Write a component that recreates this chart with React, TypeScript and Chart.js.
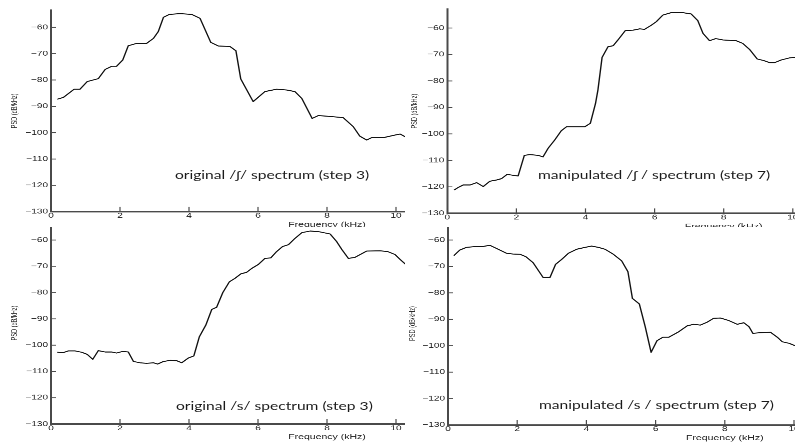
import React, { useEffect, useRef } from "react";
import { Chart, registerables } from "chart.js";

Chart.register(...registerables);

// ---------------- data ----------------
const freqOrigSh = [0.18, 0.36, 0.67, 0.84, 1.05, 1.37, 1.57, 1.76, 1.9, 2.08, 2.24, 2.48, 2.77, 2.97, 3.11, 3.26, 3.43, 3.74, 4.08, 4.32, 4.63, 4.85, 5.19, 5.36, 5.5, 5.86, 6.2, 6.54, 6.83, 7.07, 7.27, 7.57, 7.75, 8.14, 8.47, 8.76, 8.95, 9.15, 9.29, 9.63, 9.97, 10.12, 10.3];
const psdOrigSh = [-87.3, -86.6, -83.5, -83.5, -80.6, -79.5, -76, -74.8, -74.8, -72.4, -67, -66.1, -66.1, -64.2, -61.6, -56.2, -55.1, -54.8, -55.1, -56.6, -65.7, -67.1, -67.3, -68.9, -79.6, -88.2, -84.4, -83.5, -83.8, -84.4, -87, -94.6, -93.5, -93.9, -94.3, -97.7, -101.3, -102.8, -101.9, -101.9, -100.9, -100.5, -101.8];

const freqManipSh = [0.2, 0.32, 0.46, 0.66, 0.85, 1.04, 1.23, 1.43, 1.57, 1.73, 2.05, 2.23, 2.39, 2.63, 2.77, 2.92, 3.11, 3.3, 3.45, 3.74, 3.98, 4.14, 4.29, 4.36, 4.48, 4.65, 4.8, 4.94, 5.15, 5.38, 5.57, 5.71, 5.91, 6.05, 6.24, 6.48, 6.77, 7.06, 7.25, 7.4, 7.59, 7.77, 7.98, 8.36, 8.55, 8.75, 8.97, 9.16, 9.33, 9.47, 9.66, 9.9, 10.05, 10.3];
const psdManipSh = [-121.2, -120.2, -119.3, -119.3, -118.4, -119.9, -117.9, -117.4, -116.9, -115.3, -115.9, -108.1, -107.8, -108.1, -108.7, -105.4, -102.3, -98.8, -97.3, -97.3, -97.3, -96, -88.5, -83.4, -71.1, -67.1, -66.7, -64.5, -61, -60.8, -60.3, -60.5, -58.9, -57.6, -55.1, -54.2, -54.1, -54.7, -57.2, -62, -64.8, -64, -64.5, -64.8, -65.8, -68.1, -71.7, -72.3, -73.1, -73.1, -72.1, -71.3, -71.1, -70.8];

const freqOrigS = [0.18, 0.34, 0.5, 0.7, 0.89, 1.05, 1.21, 1.37, 1.57, 1.76, 1.9, 2.07, 2.24, 2.39, 2.58, 2.77, 2.97, 3.09, 3.26, 3.45, 3.64, 3.79, 3.98, 4.14, 4.3, 4.49, 4.66, 4.8, 4.98, 5.17, 5.33, 5.5, 5.67, 5.82, 6.01, 6.2, 6.37, 6.54, 6.71, 6.88, 7.07, 7.27, 7.51, 7.75, 8.09, 8.28, 8.43, 8.62, 8.81, 9.15, 9.54, 9.76, 9.97, 10.12, 10.3];
const psdOrigS = [-102.7, -102.9, -102.2, -102.2, -102.7, -103.5, -105.4, -102.1, -102.6, -102.6, -103, -102.4, -102.6, -106.2, -106.7, -106.9, -106.7, -107.2, -106.2, -105.8, -105.9, -106.7, -104.9, -104.1, -96.8, -92.3, -86.4, -85.6, -80, -75.9, -74.6, -72.9, -72.3, -70.8, -69.3, -67, -66.8, -64.4, -62.5, -61.8, -59.4, -57.2, -56.6, -56.8, -57.7, -60.6, -63.6, -67, -66.6, -64.2, -64.1, -64.4, -65.5, -67.4, -69.5];

const freqManipS = [0.17, 0.34, 0.53, 0.77, 0.99, 1.21, 1.45, 1.69, 1.88, 2.08, 2.25, 2.46, 2.75, 2.95, 3.11, 3.29, 3.48, 3.72, 3.96, 4.15, 4.35, 4.54, 4.78, 5.02, 5.2, 5.33, 5.53, 5.7, 5.87, 6.04, 6.21, 6.38, 6.67, 6.91, 7.1, 7.29, 7.49, 7.68, 7.87, 8.12, 8.36, 8.55, 8.7, 8.81, 8.99, 9.32, 9.52, 9.66, 9.86, 10.05, 10.2];
const psdManipS = [-65.9, -63.8, -62.8, -62.5, -62.5, -62, -63.5, -65, -65.3, -65.4, -66.3, -68.6, -74.2, -74.1, -69.2, -67.3, -65, -63.5, -62.8, -62.3, -62.8, -63.5, -65.4, -67.9, -72, -82.1, -84.2, -92.8, -102.5, -98.1, -96.8, -96.8, -94.7, -92.5, -91.9, -92.2, -91.1, -89.6, -89.5, -90.5, -91.9, -91.3, -92.8, -95.3, -95.1, -94.9, -96.8, -98.5, -99.1, -100.1, -100.8];

const xTickValues = [0, 2, 4, 6, 8, 10, 12, 14, 16];
const xTickLabels = ["0", "2", "4", "6", "8", "10", "12", "14", "16"];
const yTickValues = [-130, -120, -110, -100, -90, -80, -70, -60];
const yTickLabels = ["−130", "−120", "−110", "−100", "−90", "−80", "−70", "−60"];
const xTitle = "Frequency (kHz)";
const yTitle = "PSD (dB/kHz)";
const captionTexts = [
  "original /ʃ/ spectrum (step 3)",
  "manipulated /ʃ / spectrum (step 7)",
  "original /s/ spectrum (step 3)",
  "manipulated /s / spectrum (step 7)",
];

// ---------------- layout / style ----------------
const SQ = 0.7; // vertical squash of the figure
const X_MAX = 16;
const X_H = 25;
const PAD_B = 3;
const AXIS_COLOR = "#4a4a4a";
const TEXT_COLOR = "#222222";
const CAP_COLOR = "#1a1a1a";
const TICK_FONT = { family: "'Liberation Sans', Arial, sans-serif", size: 10 };
const XTITLE_FONT = { family: "'Liberation Sans', Arial, sans-serif", size: 10.5 };
const YTITLE_FONT = { family: "'Liberation Sans', Arial, sans-serif", size: 8 };

type Geom = {
  cx: number; cy: number; cw: number; ch: number; oy: number;
  axisX: number; topY: number; bottomY: number; yMax: number; pxPerK: number; yTitleX: number;
};

const geoms: Geom[] = [
  { cx: 0, cy: 0, cw: 405, ch: 227, oy: 0, axisX: 51, topY: 10, bottomY: 211.7, yMax: -53.43, pxPerK: 34.5, yTitleX: 15 },
  { cx: 405, cy: 0, cw: 390, ch: 227, oy: 0, axisX: 447.3, topY: 9, bottomY: 213.3, yMax: -52.82, pxPerK: 34.55, yTitleX: 415 },
  { cx: 0, cy: 227, cw: 405, ch: 216, oy: -20, axisX: 51, topY: 222, bottomY: 424, yMax: -53.15, pxPerK: 34.5, yTitleX: 15 },
  { cx: 405, cy: 227, cw: 390, ch: 216, oy: -20, axisX: 448, topY: 222, bottomY: 425, yMax: -53.19, pxPerK: 34.6, yTitleX: 413 },
];

const captionPos = [
  { left: 175, cy: 176.5 },
  { left: 538, cy: 176.5 },
  { left: 176, cy: 407.5 },
  { left: 539, cy: 406.5 },
];

const inwardTicks = {
  id: "inwardTicks",
  afterDatasetsDraw(chart: any) {
    const { ctx, chartArea, scales } = chart;
    ctx.save();
    ctx.strokeStyle = AXIS_COLOR;
    ctx.lineWidth = 1.2;
    scales.x.ticks.forEach((t: any) => {
      const px = scales.x.getPixelForValue(t.value);
      ctx.beginPath();
      ctx.moveTo(px, chartArea.bottom);
      ctx.lineTo(px, chartArea.bottom - 7);
      ctx.stroke();
    });
    scales.y.ticks.forEach((t: any) => {
      const py = scales.y.getPixelForValue(t.value);
      ctx.beginPath();
      ctx.moveTo(chartArea.left, py);
      ctx.lineTo(chartArea.left + 5, py);
      ctx.stroke();
    });
    ctx.restore();
  },
};

function Panel({ geom, freq, psd }: { geom: Geom; freq: number[]; psd: number[] }) {
  const ref = useRef<HTMLCanvasElement>(null);
  const T0 = geom.cy + geom.oy;
  const chartTop = (geom.topY - T0) / SQ;
  const chartBottom = (geom.bottomY - T0) / SQ;
  const chartLeft = geom.axisX - geom.cx;
  const chartRight = chartLeft + X_MAX * geom.pxPerK;
  const W = Math.ceil(chartRight + 16);
  const H = Math.ceil(chartBottom + X_H + PAD_B);

  useEffect(() => {
    const chart = new Chart(ref.current as HTMLCanvasElement, {
      type: "line",
      data: {
        datasets: [
          {
            data: freq.map((f, i) => ({ x: f, y: psd[i] })),
            borderColor: "#111111",
            borderWidth: 1.4,
            pointRadius: 0,
            fill: false,
            tension: 0,
            borderJoinStyle: "round",
          } as any,
        ],
      },
      options: {
        animation: false,
        responsive: false,
        devicePixelRatio: 2,
        events: [],
        layout: {
          padding: { left: 0, top: chartTop, right: W - chartRight, bottom: H - chartBottom - X_H },
        },
        plugins: { legend: { display: false }, tooltip: { enabled: false } },
        scales: {
          x: {
            type: "linear",
            min: 0,
            max: X_MAX,
            afterBuildTicks: (s: any) => {
              s.ticks = xTickValues.map((v) => ({ value: v }));
            },
            afterFit: (s: any) => {
              s.height = X_H;
            },
            grid: { display: false, drawTicks: false },
            border: { display: true, color: AXIS_COLOR, width: 2 },
            ticks: {
              padding: 0,
              autoSkip: false,
              maxRotation: 0,
              color: TEXT_COLOR,
              font: TICK_FONT,
              callback: (v: any) => xTickLabels[xTickValues.indexOf(Number(v))] ?? "",
            },
            title: { display: true, text: xTitle, color: TEXT_COLOR, font: XTITLE_FONT, padding: 0 },
          },
          y: {
            type: "linear",
            min: -130,
            max: geom.yMax,
            afterBuildTicks: (s: any) => {
              s.ticks = yTickValues.map((v) => ({ value: v }));
            },
            afterFit: (s: any) => {
              s.width = chartLeft;
            },
            grid: { display: false, drawTicks: false },
            border: { display: true, color: AXIS_COLOR, width: 2 },
            ticks: {
              padding: 3,
              autoSkip: false,
              color: TEXT_COLOR,
              font: TICK_FONT,
              callback: (v: any) => yTickLabels[yTickValues.indexOf(Number(v))] ?? "",
            },
            title: {
              display: true,
              text: yTitle,
              color: TEXT_COLOR,
              font: YTITLE_FONT,
              padding: { top: geom.yTitleX - geom.cx - (YTITLE_FONT.size * 1.2) / 2, bottom: 0 },
            },
          },
        },
      } as any,
      plugins: [inwardTicks],
    });
    return () => chart.destroy();
  }, []);

  return (
    <div
      style={{
        position: "absolute",
        left: geom.cx,
        top: geom.cy,
        width: geom.cw,
        height: geom.ch,
        overflow: "hidden",
        background: "#ffffff",
      }}
    >
      <div
        style={{
          position: "absolute",
          left: 0,
          top: geom.oy,
          width: W,
          height: H,
          transform: `scaleY(${SQ})`,
          transformOrigin: "0 0",
        }}
      >
        <canvas ref={ref} width={W} height={H} style={{ display: "block" }} />
      </div>
    </div>
  );
}

const CAP_SIZE = 15.6;

export default function App() {
  const series = [
    [freqOrigSh, psdOrigSh],
    [freqManipSh, psdManipSh],
    [freqOrigS, psdOrigS],
    [freqManipS, psdManipS],
  ];
  return (
    <div
      style={{
        position: "fixed",
        left: 0,
        top: 0,
        width: 795,
        height: 443,
        background: "#ffffff",
        overflow: "hidden",
      }}
    >
      {geoms.map((g, i) => (
        <Panel key={i} geom={g} freq={series[i][0]} psd={series[i][1]} />
      ))}
      {captionTexts.map((t, i) => (
        <div
          key={"c" + i}
          style={{
            position: "absolute",
            left: captionPos[i].left,
            top: captionPos[i].cy - 6.8,
            fontFamily: "Lato, 'DejaVu Sans', sans-serif",
            fontSize: CAP_SIZE,
            lineHeight: CAP_SIZE + "px",
            whiteSpace: "nowrap",
            color: CAP_COLOR,
            transform: `scaleY(${SQ})`,
            transformOrigin: "0 0",
            zIndex: 10,
          }}
        >
          {t}
        </div>
      ))}
    </div>
  );
}
